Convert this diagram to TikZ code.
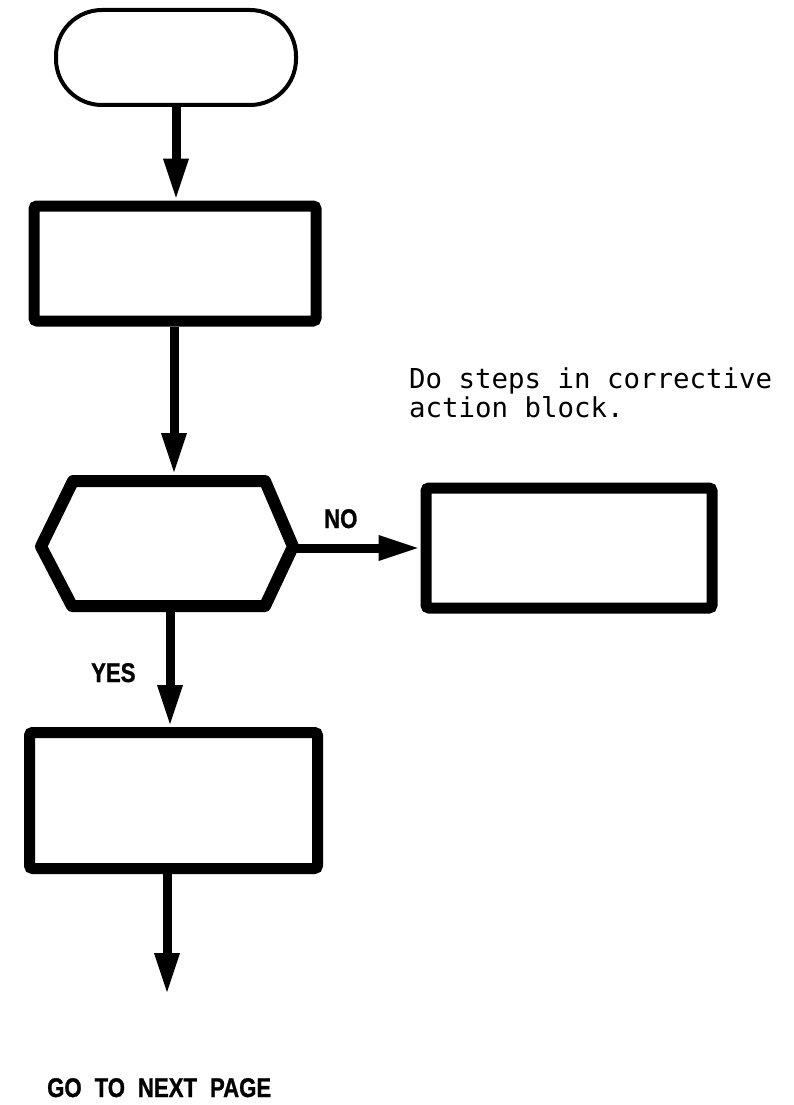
\documentclass[tikz,border=0pt]{standalone}
\usepackage{fontspec}
\usetikzlibrary{arrows.meta}
\newfontfamily\labfont{Liberation Sans}[FakeStretch=0.82,FakeBold=1]
\newfontfamily\notefont{DejaVu Sans Mono}
\newcommand\labspacing{\spaceskip=13pt\relax}
\begin{document}
\begin{tikzpicture}[x=1pt,y=-1pt,
  stepbox/.style={draw, line width=11pt, inner sep=0pt, rounded corners=3pt},
  termbox/.style={draw, line width=4pt, inner sep=0pt, rounded corners=46pt,
    minimum width=240pt, minimum height=95pt},
  arr/.style={line width=9pt, -{Triangle[length=42pt,width=23pt]}},
  lab/.style={inner sep=0pt, font=\labfont\bfseries\fontsize{27}{30}\selectfont},
  note/.style={inner sep=0pt, font=\notefont\fontsize{27.4}{29}\selectfont}]
\fill[white] (0,0) rectangle (794,1105);
\useasboundingbox (0,0) rectangle (794,1105);

\node[termbox] (term) at (176,57.5) {};
\node[stepbox, minimum width=282pt, minimum height=115pt] (b1) at (175,263.5) {};
\node[draw=none, inner sep=0pt, outer sep=6pt, minimum width=252pt, minimum height=125pt] (hex) at (167,543.5) {};
\draw[line width=12pt, line join=round]
  ([shift={(-94,-62.5)}]hex.center) -- ([shift={(98,-62.5)}]hex.center)
  -- ([shift={(126,3)}]hex.center) -- ([shift={(98,62.5)}]hex.center)
  -- ([shift={(-95,62.5)}]hex.center) -- ([shift={(-126,3)}]hex.center) -- cycle;
\node[stepbox, minimum width=286pt, minimum height=120pt] (bno) at (569,548) {};
\node[stepbox, minimum width=288pt, minimum height=136pt] (b3) at (173.5,800.5) {};
\coordinate (end) at (167,995);

\draw[arr] (term.south) -- (term.south |- b1.north);
\draw[arr] ([xshift=-1pt]b1.south) -- ([xshift=-1pt]b1.south |- hex.north);
\draw[arr] ([xshift=3pt]hex.south) -- ([xshift=3pt]hex.south |- b3.north);
\draw[arr] (b3.south -| end) -- (end);
\draw[arr] ([xshift=-6pt]hex.east |- bno.west) -- (bno.west);

\node[lab, anchor=base west] (no) at (324,528) {NO};
\node[lab, anchor=base west] (yes) at (91,682) {YES};
\node[lab, anchor=base west] (go) at (47,1097) {\labspacing GO TO NEXT PAGE};
\node[note, anchor=base west] (c1) at (409,388) {Do steps in corrective};
\node[note, anchor=base west] (c2) at (409,417) {action block.};
\end{tikzpicture}
\end{document}
